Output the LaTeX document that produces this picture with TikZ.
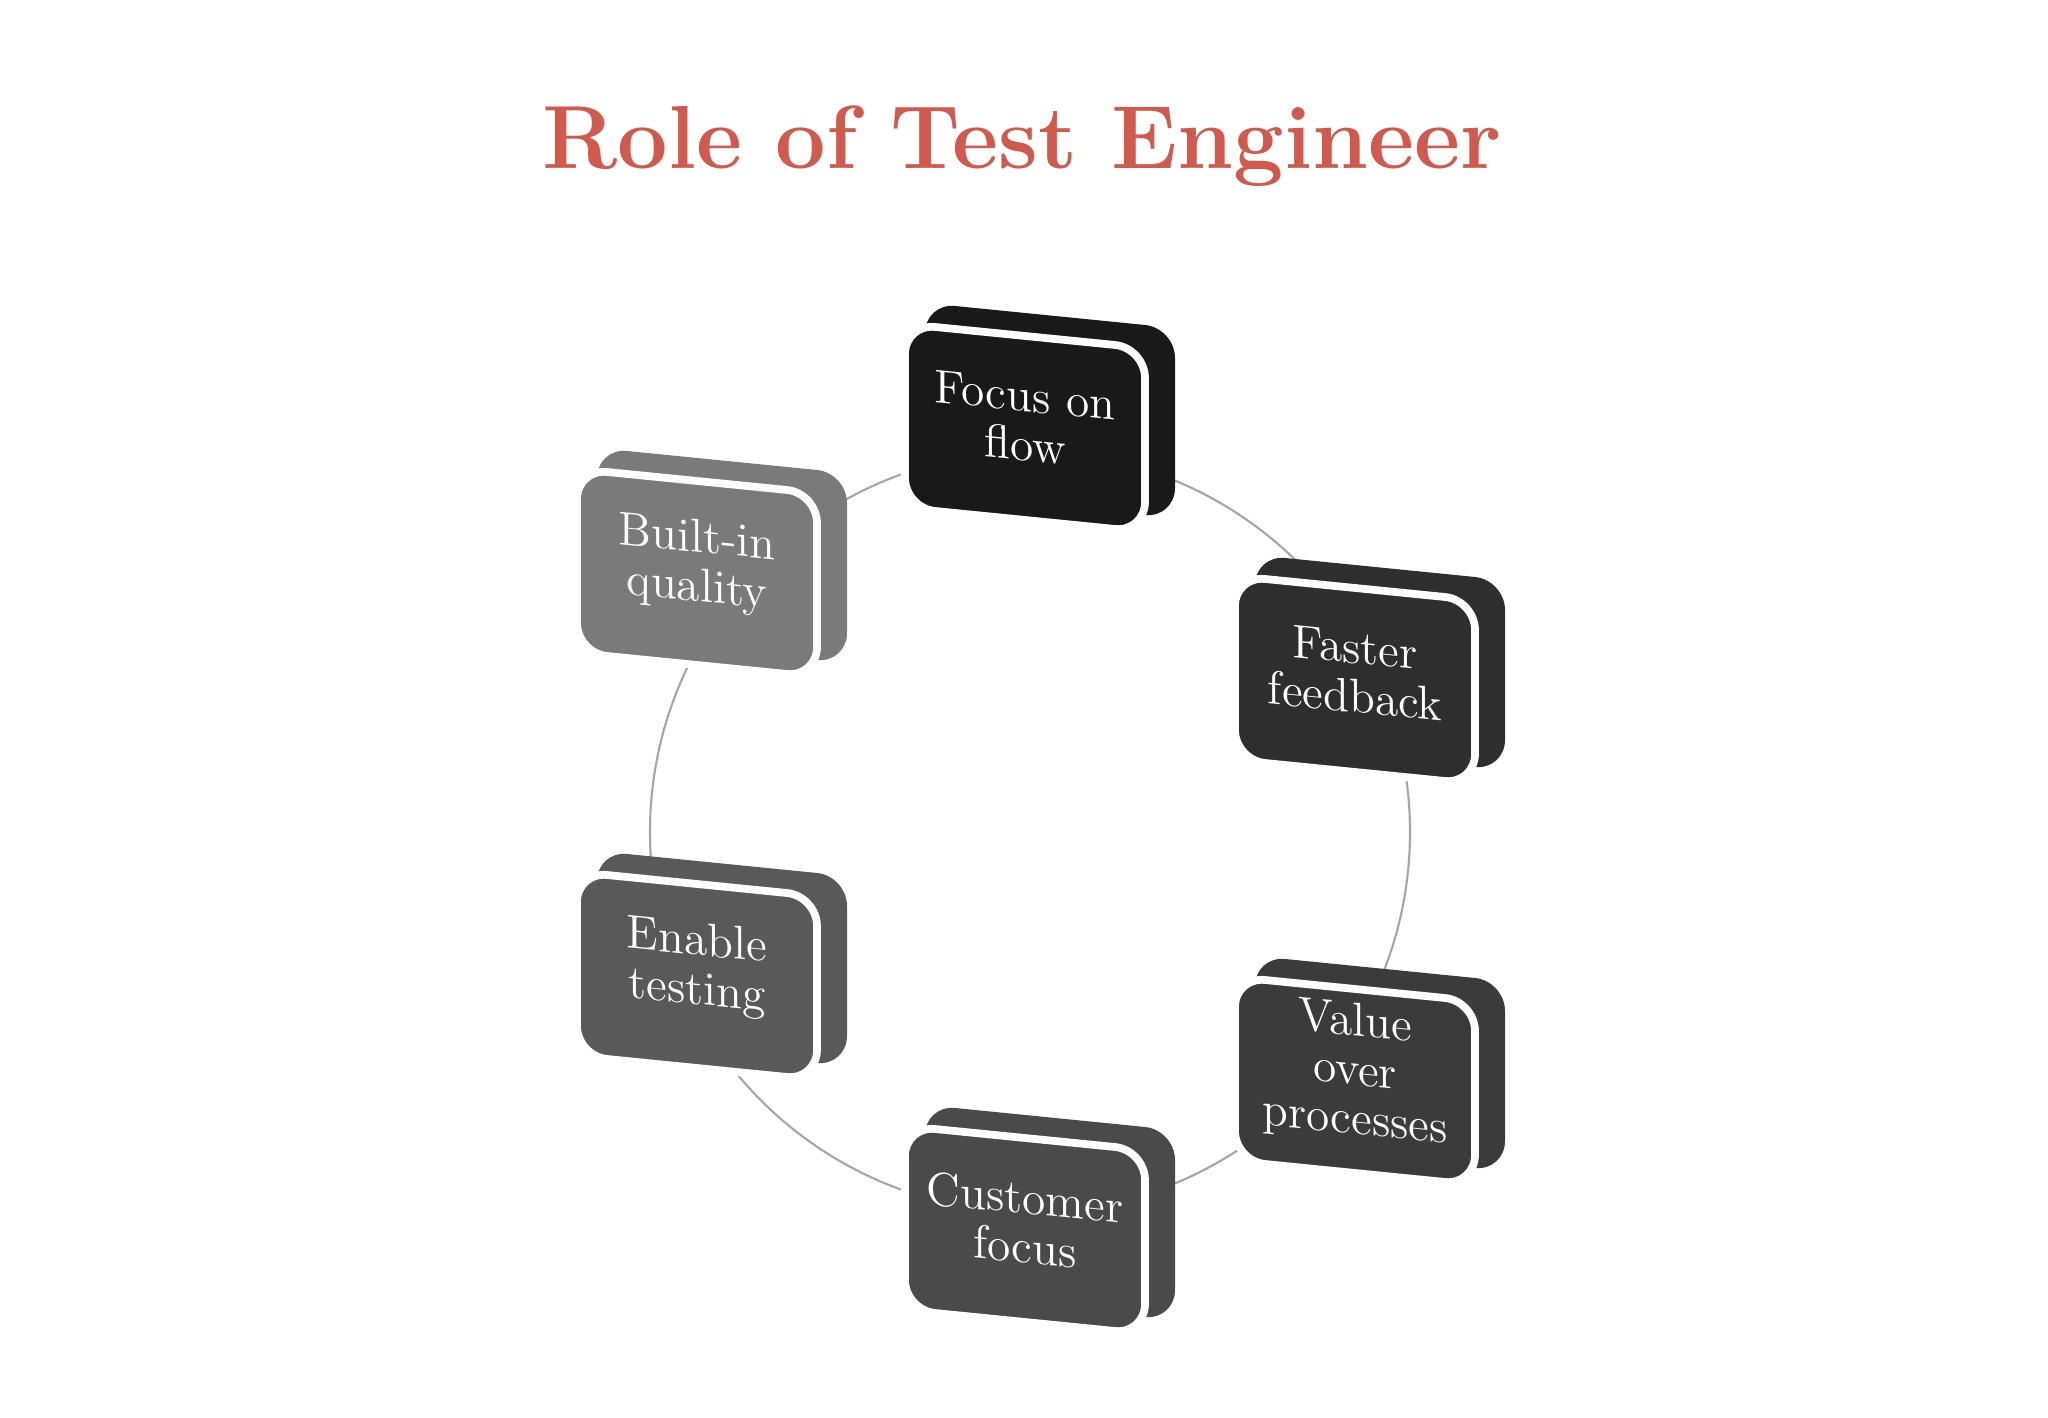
\documentclass[tikz,border=0pt]{standalone}
\begin{document}
\begin{tikzpicture}[x=0.01cm,y=0.01cm,
  facebox/.style={rounded corners=0.3cm},
  boxtext/.style={text=white,align=center,font=\fontsize{13.5}{14}\selectfont,inner sep=0pt,transform shape}]
\useasboundingbox[fill=white] (0,0) rectangle (2048,1418);
\node[font=\bfseries\fontsize{25.5}{28}\selectfont,text={rgb,255:red,208;green,90;blue,78}] (title) at (1022,1272) {Role of Test Engineer};
\draw[gray!70,line width=0.6pt] (1030,586) circle (380);
\foreach \n/\cx/\cy/\col/\txt in {
  focus/1025/990/{black!90}/{Focus on\\flow},
  faster/1355/738/{black!82}/{Faster\\feedback},
  value/1355/337/{black!77}/{Value\\over\\processes},
  customer/1025/188/{black!71}/{Customer\\focus},
  enable/697/442/{black!65}/{Enable\\testing},
  built/697/845/{black!52}/{Built-in\\quality}}{
  \begin{scope}[shift={(\cx,\cy)},yslant=-0.1]
    \fill[\col,facebox] (-100,-75) rectangle (150,115);
    \draw[white,line width=2.2pt,fill=\col,facebox] (-120,-92) rectangle (120,92);
    \node[boxtext] (\n) at (0,8) {\txt};
  \end{scope}}
\end{tikzpicture}
\end{document}
